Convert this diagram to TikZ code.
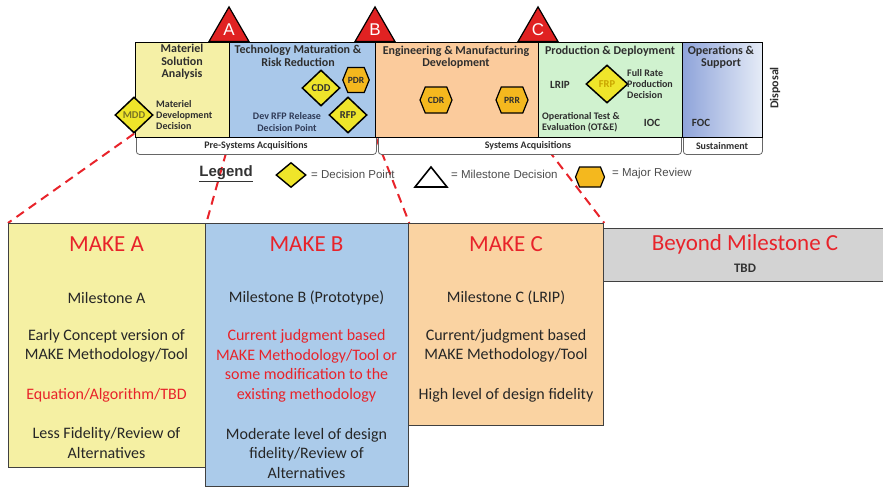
\documentclass[tikz,border=0pt]{standalone}
\usepackage{fontspec}
\setmainfont{Carlito}
\newfontfamily\arialf{Liberation Sans}
\usetikzlibrary{shapes.geometric,shapes.symbols}
\pgfdeclarelayer{bg}
\pgfsetlayers{bg,main}
\definecolor{mYel}{HTML}{F5F0A6}
\definecolor{mBlu}{HTML}{A9C8EA}
\definecolor{mOra}{HTML}{FBCB9C}
\definecolor{mGrn}{HTML}{D0F2CF}
\definecolor{mOpsL}{HTML}{8FA4DA}
\definecolor{mOpsR}{HTML}{E6ECF7}
\definecolor{dpYel}{HTML}{EFE52A}
\definecolor{mrOra}{HTML}{F4B81E}
\definecolor{msRed}{HTML}{E02222}
\definecolor{txtRed}{HTML}{E8232A}
\definecolor{bYel}{HTML}{F5F0A3}
\definecolor{bBlu}{HTML}{ABCBEA}
\definecolor{bOra}{HTML}{FAD3A2}
\definecolor{bGry}{HTML}{D3D3D3}
\definecolor{dkTxt}{HTML}{2E2E2E}
\definecolor{rfpTxt}{HTML}{2F3A56}
\definecolor{mddTxt}{HTML}{7A7424}
\definecolor{frpTxt}{HTML}{C9A400}
\begin{document}
\begin{tikzpicture}[x=1pt,y=-1pt,
  phase/.style={draw=black, line width=1.2pt, inner sep=0pt, anchor=north west, minimum height=95pt},
  acq/.style={draw=black!60, line width=0.8pt, fill=white, rounded corners=3pt, anchor=north west, minimum height=26pt, inner sep=0pt},
  acqtxt/.style={font=\fontsize{10}{12}\selectfont\bfseries, text=dkTxt, inner sep=0pt},
  ttl/.style={font=\fontsize{12}{12.5}\selectfont\bfseries, text=dkTxt, inner sep=0pt, align=center},
  lbl/.style={font=\fontsize{10}{11.3}\selectfont\bfseries, text=dkTxt, inner sep=0pt},
  dp/.style={diamond, draw=black, line width=1.5pt, fill=dpYel, inner sep=0pt, minimum width=38pt, minimum height=36pt, font=\fontsize{10.5}{12}\selectfont\bfseries, text=dkTxt},
  mr/.style={signal, signal to=west and east, signal pointer angle=136, draw=black, line width=1.2pt, fill=mrOra, inner sep=0pt, font=\fontsize{9.5}{11}\selectfont\bfseries, text=dkTxt},
  ms/.style={regular polygon, regular polygon sides=3, draw=black, line width=1.2pt, fill=msRed, minimum size=46pt, inner sep=0pt, text=white, font=\arialf\fontsize{17}{17}\selectfont, anchor=south},
  bbox/.style={draw=black!75, line width=1.3pt, anchor=north west, inner sep=0pt},
  btitle/.style={font=\fontsize{23}{26}\selectfont, text=txtRed, inner sep=0pt},
  btxt/.style={font=\fontsize{16}{19.5}\selectfont, text=black!85, inner sep=0pt, align=center},
  legtxt/.style={font=\arialf\fontsize{11.5}{13}\selectfont, text=black!70, inner sep=0pt, anchor=west},
  reddash/.style={draw=txtRed, line width=2pt, dash pattern=on 9pt off 6pt}
]
\useasboundingbox (0,0) rectangle (883,487);

% ---------- bottom boxes ----------
\node[bbox, fill=bYel, minimum width=197pt, minimum height=244pt] (makeA) at (8,223) {};
\node[bbox, fill=bOra, minimum width=195pt, minimum height=202pt] (makeC) at (408,223) {};
\node[bbox, fill=bGry, minimum width=290pt, minimum height=53pt] (beyond) at (603,228) {};
\node[bbox, fill=bBlu, minimum width=203pt, minimum height=263pt] (makeB) at (205,223) {};

\node[btitle] (tA) at (106.5,244) {MAKE A};
\node[btxt] (a1) at (106.5,298) {Milestone A};
\node[btxt] (a2) at (106.5,346) {Early Concept version of\\MAKE Methodology/Tool};
\node[btxt, text=txtRed] (a3) at (106.5,395) {Equation/Algorithm/TBD};
\node[btxt] (a4) at (106.5,443) {Less Fidelity/Review of\\Alternatives};

\node[btitle] (tB) at (306.5,244) {MAKE B};
\node[btxt] (b1) at (306.5,298) {Milestone B (Prototype)};
\node[btxt, text=txtRed] (b2) at (306.5,366) {Current judgment based\\MAKE Methodology/Tool or\\some modification to the\\existing methodology};
\node[btxt] (b3) at (306.5,453) {Moderate level of design\\fidelity/Review of\\Alternatives};

\node[btitle] (tC) at (506,244) {MAKE C};
\node[btxt] (c1) at (506,298) {Milestone C (LRIP)};
\node[btxt] (c2) at (506,346) {Current/judgment based\\MAKE Methodology/Tool};
\node[btxt] (c3) at (506,395) {High level of design fidelity};

\node[btitle] (tD) at (745,244) {Beyond Milestone C};
\node[font=\fontsize{13}{15}\selectfont\bfseries, text=black!80, inner sep=0pt] (d1) at (745,268) {TBD};

% ---------- acquisition bars ----------
\node[acq, minimum width=240pt] (pre) at (136,128) {};
\node[acq, minimum width=303pt] (sys) at (378,128) {};
\node[acq, minimum width=79pt] (sus) at (683,128) {};
\node[acqtxt] (preT) at (256,146) {Pre-Systems Acquisitions};
\node[acqtxt] (sysT) at (528,146) {Systems Acquisitions};
\node[acqtxt] (susT) at (722,146) {Sustainment};

% ---------- phases ----------
\node[phase, fill=mYel, minimum width=94pt] (msa) at (135,42) {};
\node[phase, fill=mBlu, minimum width=146pt] (tmrr) at (229,42) {};
\node[phase, fill=mOra, minimum width=163pt] (emd) at (375,42) {};
\node[phase, fill=mGrn, minimum width=144pt] (pd) at (538,42) {};
\node[phase, left color=mOpsL, right color=mOpsR, minimum width=80pt] (os) at (682,42) {};

\node[ms] (msA) at (229,42) {A};
\node[ms] (msB) at (375,42) {B};
\node[ms] (msC) at (538,42) {C};

\node[ttl] (msaT) at (182,62) {Materiel\\Solution\\Analysis};
\node[ttl] (tmrrT) at (298,56) {Technology Maturation \&\\Risk Reduction};
\node[ttl] (emdT) at (456,57) {Engineering \& Manufacturing\\Development};
\node[ttl] (pdT) at (610,51) {Production \& Deployment};
\node[ttl] (osT) at (721,57) {Operations \&\\Support};
\node[ttl, rotate=90] (disp) at (775,88) {Disposal};

\node[dp, text=mddTxt] (mdd) at (134,115) {MDD};
\node[lbl, anchor=west, align=left] (mddT) at (156,115) {Materiel\\Development\\Decision};
\node[dp] (cdd) at (321,88) {CDD};
\node[mr, minimum width=26pt, minimum height=25pt] (pdr) at (356,80) {PDR};
\node[dp] (rfp) at (348,115) {RFP};
\node[lbl, align=center, text=rfpTxt] (rfpT) at (287,122) {Dev RFP Release\\Decision Point};

\node[mr, minimum width=32pt, minimum height=26pt] (cdr) at (436,100) {CDR};
\node[mr, minimum width=32pt, minimum height=26pt] (prr) at (512,100) {PRR};

\node[lbl, font=\fontsize{11}{12}\selectfont\bfseries] (lrip) at (560,85) {LRIP};
\node[dp, minimum width=42pt, minimum height=38pt, text=frpTxt] (frp) at (607,84) {FRP};
\node[lbl, anchor=west, align=left] (frpT) at (627,84) {Full Rate\\Production\\Decision};
\node[lbl, anchor=west, align=left] (ote) at (542,122) {Operational Test \&\\Evaluation (OT\&E)};
\node[lbl, font=\fontsize{11}{12}\selectfont\bfseries] (ioc) at (652,123) {IOC};
\node[lbl, font=\fontsize{11}{12}\selectfont\bfseries] (foc) at (701,123) {FOC};

% ---------- legend ----------
\node[font=\arialf\bfseries\fontsize{15}{17}\selectfont, text=black!80, inner sep=0pt] (leg) at (226,174) {\underline{Legend}};
\node[dp, minimum width=30pt, minimum height=25pt, line width=1.4pt] (legDP) at (291,175) {};
\node[legtxt] (legDPt) at (311,174) {= Decision Point};
\coordinate (legMS) at (431,177);
\draw[black, line width=1.6pt, fill=white, line join=miter] (415,187) -- (431,167) -- (447,187) -- cycle;
\node[legtxt] (legMSt) at (451,174) {= Milestone Decision};
\node[mr, minimum width=29pt, minimum height=20pt] (legMR) at (590,177) {};
\node[legtxt] (legMRt) at (612,174) {= Major Review};

% ---------- dashed connectors ----------
\begin{pgfonlayer}{bg}
\draw[reddash] (mdd.south) -- (makeA.north west);
\draw[reddash] (msa.south east) -- (makeA.north east);
\draw[reddash] (tmrr.south east) -- (makeB.north east);
\draw[reddash] (emd.south east) -- (makeC.north east);
\end{pgfonlayer}
\end{tikzpicture}
\end{document}
